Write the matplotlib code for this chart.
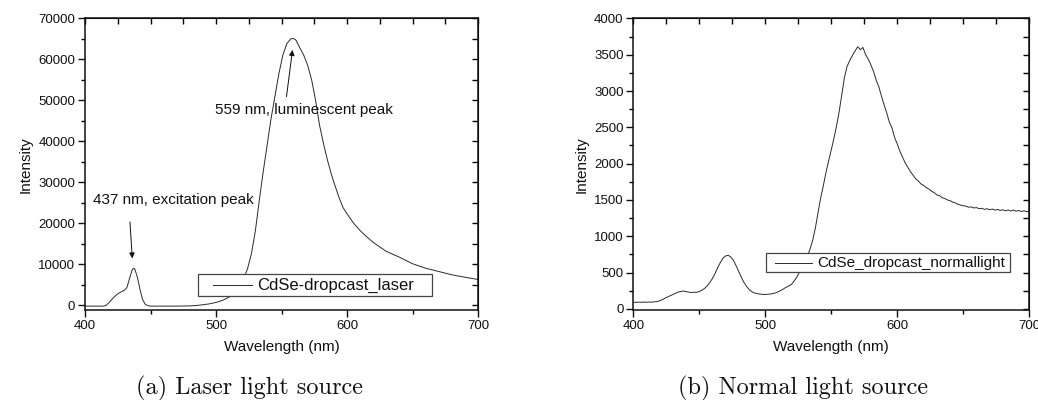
import matplotlib.pyplot as plt
from matplotlib.patches import Rectangle
from matplotlib.ticker import MultipleLocator

plt.rcParams["font.family"] = ["Liberation Sans", "DejaVu Sans"]
plt.rcParams["axes.unicode_minus"] = False

# laser excitation spectrum (wavelength nm, counts)
laser_nm = [400, 405, 410, 414, 416, 418, 420, 422, 424, 426, 428, 430, 432, 434,
            436, 437, 438, 440, 442, 444, 446, 448, 450, 460, 470, 480, 485, 490,
            495, 500, 505, 510, 515, 518, 521, 524, 527, 530, 533, 536, 539, 542,
            545, 548, 551, 554, 557, 559, 561, 564, 567, 570, 573, 576, 579, 582,
            585, 588, 591, 594, 597, 600, 605, 610, 615, 620, 625, 630, 640, 650,
            660, 670, 680, 690, 700]
laser_int = [-250, -250, -250, -250, -100, 500, 1200, 1900, 2500, 2950, 3300, 3600, 4300, 6500,
             8600, 9000, 8800, 6800, 3800, 1300, 200, -150, -250, -250, -250, -200, -100, 80,
             300, 650, 1150, 1950, 3100, 4400, 6400, 8800, 12500, 18000, 25500, 32500, 39000, 45500,
             51000, 56500, 61000, 63800, 65000, 65100, 64700, 62800, 61000, 58500, 55000, 50000, 44000, 39500,
             35500, 32000, 29000, 26200, 23800, 22300, 20000, 18200, 16700, 15300, 14200, 13100, 11700, 10100,
             9000, 8200, 7400, 6800, 6250]

# normal light spectrum, sampled every 2 nm from 400 to 700
normal_nm = list(range(400, 701, 2))
normal_int = [
    92, 90, 93, 91, 94, 92, 95, 93, 97, 102,            # 400-418
    112, 128, 148, 165, 183, 200, 216, 232, 240, 246,   # 420-438
    238, 232, 225, 230, 228, 240, 258, 282, 318, 365,   # 440-458
    420, 490, 570, 640, 700, 730, 738, 712, 665, 590,   # 460-478
    510, 430, 360, 305, 262, 235, 218, 210, 204, 200,   # 480-498
    198, 202, 206, 212, 222, 238, 256, 278, 300, 318,   # 500-518
    340, 388, 440, 510, 580, 650, 730, 830, 950, 1120,  # 520-538
    1330, 1530, 1700, 1880, 2040, 2190, 2350, 2520, 2720, 2960,  # 540-558
    3190, 3340, 3420, 3490, 3550, 3610, 3570, 3600, 3500, 3440,  # 560-578
    3360, 3270, 3150, 3060, 2930, 2810, 2700, 2570, 2490, 2360,  # 580-598
    2270, 2170, 2090, 2010, 1950, 1890, 1840, 1790, 1760, 1720,  # 600-618
    1700, 1670, 1650, 1620, 1600, 1570, 1560, 1530, 1520, 1500,  # 620-638
    1490, 1470, 1460, 1440, 1430, 1420, 1415, 1400, 1405, 1390,  # 640-658
    1395, 1380, 1385, 1370, 1380, 1365, 1375, 1360, 1370, 1355,  # 660-678
    1365, 1350, 1362, 1348, 1360, 1345, 1355, 1340, 1352, 1338,  # 680-698
    1345,                                                         # 700
]

laser_label = "CdSe-dropcast_laser"
normal_label = "CdSe_dropcast_normallight"

TXT = "#111111"
LINE = "#2a2a2a"


def style_axes(ax, ymin, ymax, ymajor, yminor, yright):
    ax.set_xlim(400, 700)
    ax.set_ylim(ymin, ymax)
    for s in ax.spines.values():
        s.set_linewidth(1.1)
        s.set_color("#111111")
    ax.xaxis.set_major_locator(MultipleLocator(100))
    ax.xaxis.set_minor_locator(MultipleLocator(50))
    ax.yaxis.set_major_locator(MultipleLocator(ymajor))
    ax.yaxis.set_minor_locator(MultipleLocator(yminor))
    ax.tick_params(which="major", direction="out", length=5, width=1, labelsize=9.5,
                   pad=2, colors=TXT)
    ax.tick_params(which="minor", direction="out", length=3, width=1)
    ax.set_xlabel("Wavelength (nm)", fontsize=11, color=TXT, labelpad=6)
    ax.set_ylabel("Intensity", fontsize=11, color=TXT, labelpad=4)

    # mirrored axes with inward ticks only
    top = ax.secondary_xaxis("top")
    top.xaxis.set_major_locator(MultipleLocator(25))
    top.tick_params(direction="in", length=4, width=1, labeltop=False)
    right = ax.secondary_yaxis("right")
    right.yaxis.set_major_locator(MultipleLocator(yright))
    right.tick_params(direction="in", length=4, width=1, labelright=False)


def add_legend(ax, box, handle, label, size):
    x0, y0, x1, y1 = box
    ax.add_patch(Rectangle((x0, y0), x1 - x0, y1 - y0, transform=ax.transAxes,
                           facecolor="white", edgecolor="#444444", linewidth=0.9, zorder=4))
    ym = (y0 + y1) / 2
    ax.plot(handle, [ym, ym], transform=ax.transAxes, color=LINE, linewidth=0.7, zorder=5)
    ax.text(handle[1] + 0.014, ym, label, transform=ax.transAxes, ha="left", va="center",
            fontsize=size, color=TXT, zorder=5)


fig = plt.figure(figsize=(10.38, 4.0), dpi=100)
ax1 = fig.add_axes([0.0819, 0.225, 0.3786, 0.729])
ax2 = fig.add_axes([0.6101, 0.225, 0.3815, 0.729])

# (a) laser source
ax1.plot(laser_nm, laser_int, color=LINE, linewidth=0.7)
style_axes(ax1, -1200, 70000, 10000, 5000, 5000)
ax1.annotate("", xy=(558.4, 62300), xytext=(553.8, 50900),
             arrowprops=dict(arrowstyle="-|>", color="#111111", lw=0.7, mutation_scale=8,
                             shrinkA=0, shrinkB=0))
ax1.text(499.2, 47600, "559 nm, luminescent peak", fontsize=11, color=TXT, va="center")
ax1.annotate("", xy=(436.1, 11400), xytext=(434.3, 20300),
             arrowprops=dict(arrowstyle="-|>", color="#111111", lw=0.7, mutation_scale=8,
                             shrinkA=0, shrinkB=0))
ax1.text(406.3, 25600, "437 nm, excitation peak", fontsize=11, color=TXT, va="center")
add_legend(ax1, (0.288, 0.049, 0.882, 0.122), (0.326, 0.424), laser_label, 12)

# (b) normal light source
ax2.plot(normal_nm, normal_int, color=LINE, linewidth=0.7)
style_axes(ax2, -15, 4000, 500, 250, 250)
add_legend(ax2, (0.335, 0.130, 0.951, 0.195), (0.358, 0.451), normal_label, 11)

fig.text(0.24, 0.03, "(a) Laser light source", family="cmr10", fontsize=17.5,
         ha="center", va="center", color=TXT)
fig.text(0.774, 0.03, "(b) Normal light source", family="cmr10", fontsize=17.5,
         ha="center", va="center", color=TXT)

fig.savefig("out.png", dpi=100)
